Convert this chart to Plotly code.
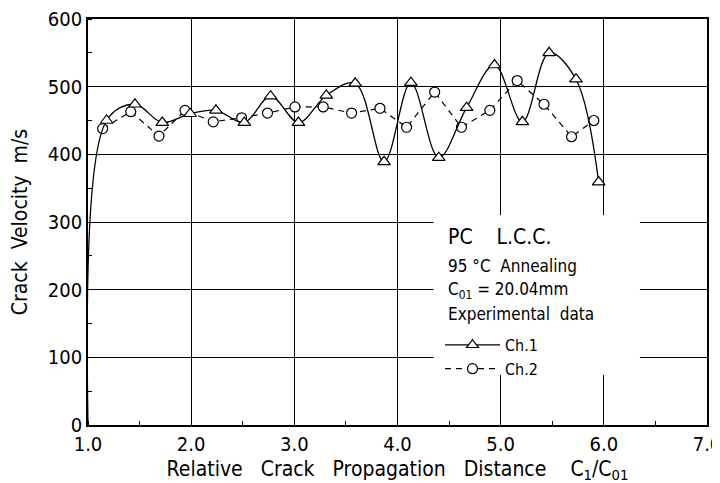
import plotly.graph_objects as go

# Ch.1 (triangles, solid smooth curve); first point is the start of the curve at the origin
ch1_x = [1.0, 1.18, 1.455, 1.72, 1.99, 2.24, 2.515, 2.77, 3.04, 3.31, 3.59,
         3.87, 4.13, 4.40, 4.67, 4.94, 5.21, 5.47, 5.73, 5.95]
ch1_y = [0, 450, 474, 447, 460, 465, 447, 486, 447, 487, 505,
         389, 506, 395, 469, 532, 448, 550, 511, 359]

# Ch.2 (circles, dashed)
ch2_x = [1.142, 1.414, 1.688, 1.94, 2.214, 2.489, 2.74, 3.006, 3.28, 3.555,
         3.83, 4.088, 4.36, 4.62, 4.895, 5.16, 5.42, 5.687, 5.903]
ch2_y = [438, 463, 427, 465, 448, 454, 461, 470, 470, 461,
         468, 440, 492, 440, 465, 509, 474, 426, 450]

x_ticks = [1, 2, 3, 4, 5, 6, 7]
x_tick_labels = ["1.0", "2.0", "3.0", "4.0", "5.0", "6.0", "7.0"]
y_ticks = [0, 100, 200, 300, 400, 500, 600]

FONT = "DejaVu Sans Condensed, Liberation Sans Narrow, sans-serif"
NB = "\u00a0"

# plot-area reference (page pixels): x 88..707, y 19..425 ; page body adds 8px offset
PX0, PX1, PY0, PY1 = 88, 707, 19, 425
PW, PH = PX1 - PX0, PY1 - PY0
FW, FH = 720, 475

fig = go.Figure()

fig.add_trace(go.Scatter(
    x=ch2_x, y=ch2_y, name="Ch.2", mode="lines+markers",
    line=dict(color="black", width=1.2, dash="6px,5px"),
    marker=dict(symbol="circle", size=10, color="#ffffff",
                line=dict(color="black", width=1.2)),
))

fig.add_trace(go.Scatter(
    x=ch1_x, y=ch1_y, name="Ch.1", mode="lines+markers",
    line=dict(color="black", width=1.3, shape="spline", smoothing=1.0),
    marker=dict(symbol="triangle-up", size=[0] + [11] * (len(ch1_x) - 1),
                color="#ffffff", opacity=1, line=dict(color="black", width=1.2)),
))

# white area behind the legend text (gridlines are interrupted there)
fig.add_shape(type="rect", xref="x", yref="y", x0=4.35, x1=6.35, y0=74, y1=310,
              fillcolor="white", line=dict(width=0), layer="between")

texts = [
    ("PC" + NB * 4 + "L.C.C.", 21, 237),
    ("95" + NB + "°C" + NB * 2 + "Annealing", 17, 266),
    ("C<sub>01</sub>" + NB + "=" + NB + "20.04mm", 17, 290),
    ("Experimental" + NB * 2 + "data", 17, 314),
]
ann = []
for t, s, yp in texts:
    ann.append(dict(text=t, xref="paper", yref="paper", x=(446 - PX0) / PW, y=(PY1 - yp) / PH,
                    xanchor="left", yanchor="middle", showarrow=False,
                    font=dict(family=FONT, size=s, color="black")))

fig.update_layout(
    width=FW, height=FH,
    margin=dict(l=PX0 - 8, r=FW - (PX1 - 8), t=PY0 - 8, b=FH - (PY1 - 8)),
    paper_bgcolor="white", plot_bgcolor="white",
    font=dict(family=FONT, size=19, color="black"),
    showlegend=True,
    legend=dict(x=(440 - PX0) / PW, y=(PY1 - 328) / PH, xanchor="left", yanchor="top",
                bgcolor="rgba(0,0,0,0)", font=dict(family=FONT, size=16),
                traceorder="reversed", itemwidth=55, tracegroupgap=0),
    annotations=ann,
)

fig.update_xaxes(
    range=[1, 7], tickvals=x_ticks, ticktext=x_tick_labels,
    showgrid=True, gridcolor="black", gridwidth=1,
    showline=True, linecolor="black", linewidth=1.8, mirror=True,
    ticks="", zeroline=False, automargin=False, ticklabeloverflow="allow",
    minor=dict(dtick=0.5, ticks="inside", ticklen=4, tickcolor="black", showgrid=False),
    tickfont=dict(family=FONT, size=20),
    title=dict(text="Relative" + NB * 3 + "Crack" + NB * 3 + "Propagation" + NB * 3 +
               "Distance" + NB * 4 + "C<sub>1</sub>/C<sub>01</sub>",
               font=dict(family=FONT, size=21)),
)
fig.update_yaxes(
    range=[0, 600], tickvals=y_ticks,
    showgrid=True, gridcolor="black", gridwidth=1,
    showline=True, linecolor="black", linewidth=1.8, mirror=True,
    ticks="", zeroline=False, automargin=False, ticklabeloverflow="allow",
    minor=dict(dtick=50, ticks="inside", ticklen=4, tickcolor="black", showgrid=False),
    tickfont=dict(family=FONT, size=20),
    title=dict(text="Crack" + NB * 2 + "Velocity" + NB * 2 + "m/s",
               font=dict(family=FONT, size=21)),
)

fig.write_html("out.html")
